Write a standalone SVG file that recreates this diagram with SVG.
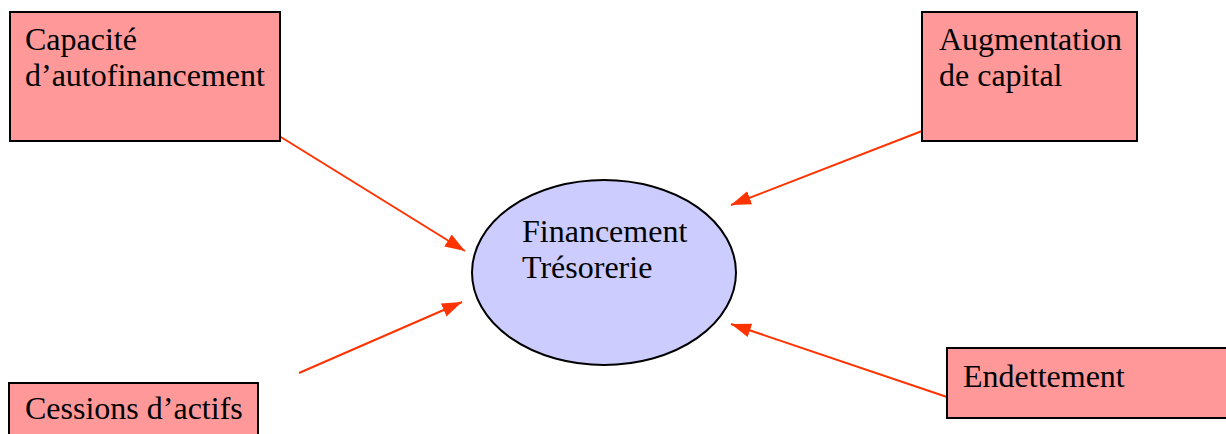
<svg xmlns="http://www.w3.org/2000/svg" width="1226" height="434" viewBox="0 0 1226 434">
<style>
.box{fill:#FF9999;stroke:#000;stroke-width:2}
.ell{fill:#CCCCFF;stroke:#000;stroke-width:2}
.t{font-family:"Liberation Serif","Times New Roman",serif;font-size:32px;fill:#000}
.c{stroke:#FF3300;stroke-width:2;fill:none;marker-end:url(#ah)}
</style>
<defs>
<marker id="ah" markerUnits="userSpaceOnUse" markerWidth="22" markerHeight="16" refX="20" refY="7" orient="auto">
<path d="M0,0 L20,7 L0,14 Z" fill="#FF3300"/>
</marker>
</defs>
<rect width="1226" height="434" fill="#fff"/>
<g id="connectors">
<line class="c" x1="276" y1="134" x2="465" y2="251"/>
<line class="c" x1="922" y1="131" x2="731" y2="205"/>
<line class="c" x1="299" y1="373" x2="462" y2="302"/>
<line class="c" x1="947" y1="397" x2="731" y2="324"/>
</g>
<g id="n-caf">
<rect class="box" x="10" y="12" width="270" height="129"/>
<text class="t" x="25" y="50">Capacité</text>
<text class="t" x="25" y="86">d’autofinancement</text>
</g>
<g id="n-aug">
<rect class="box" x="922" y="12" width="215" height="129"/>
<text class="t" x="939" y="50">Augmentation</text>
<text class="t" x="939" y="86">de capital</text>
</g>
<g id="n-ces">
<rect class="box" x="9" y="383" width="249" height="60"/>
<text class="t" x="25" y="419">Cessions d’actifs</text>
</g>
<g id="n-end">
<rect class="box" x="947" y="348" width="285" height="70"/>
<text class="t" x="963" y="387">Endettement</text>
</g>
<g id="n-fin">
<ellipse class="ell" cx="604" cy="272.5" rx="132" ry="92.5"/>
<text class="t" x="522" y="242">Financement</text>
<text class="t" x="522" y="278">Trésorerie</text>
</g>
</svg>
